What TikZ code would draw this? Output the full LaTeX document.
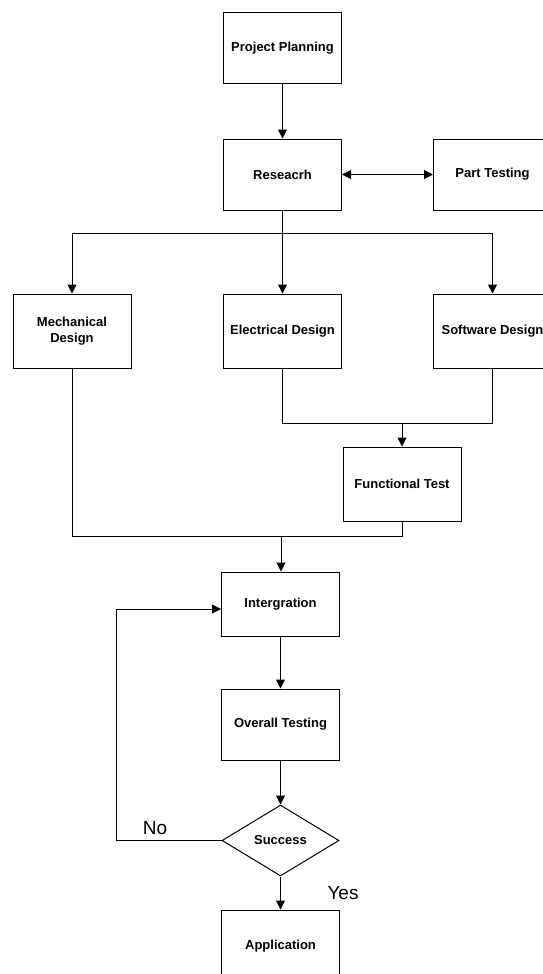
\documentclass[tikz,border=0pt]{standalone}
\usepackage{fontspec}
\setmainfont{Liberation Sans}
\usetikzlibrary{arrows.meta,shapes.geometric}

\begin{document}
\begin{tikzpicture}[x=1pt, y=-1pt,
        box/.style={draw, line width=1pt, minimum width=118pt, minimum height=71pt,
            align=center, font=\fontsize{13}{16}\selectfont\bfseries},
        decision/.style={draw, diamond, line width=1pt, minimum width=117pt, minimum height=71pt,
            aspect=1.65, inner sep=0pt, font=\fontsize{13}{16}\selectfont\bfseries},
        answer/.style={font=\fontsize{19}{22}\selectfont},
        link/.style={line width=1pt},
        arr/.style={link, -{Triangle[length=9pt, width=9pt]}},
        twoway/.style={link, {Triangle[length=9pt, width=9pt]}-{Triangle[length=9pt, width=9pt]}}]
        % \draw[help lines, step=50] (0,0) grid (542, 974);
        \useasboundingbox (0,0) rectangle (542,974);

        \node[box] (plan) at (282.5, 48) {Project Planning};
        \node[box] (research) at (282.5, 174.5) {Reseacrh};
        \node[box] (part) at (492.5, 174.5) {Part Testing};

        \node[box, minimum height=74pt] (mech) at (72, 331) {Mechanical\\Design};
        \node[box, minimum height=74pt] (elec) at (282.5, 331) {Electrical Design};
        \node[box, minimum height=74pt] (soft) at (492.5, 331) {Software Design};

        \node[box, minimum height=74pt] (func) at (402, 484) {Functional Test};
        \node[box, minimum height=64pt] (integ) at (280.5, 604) {Intergration};
        \node[box] (overall) at (280.5, 724.5) {Overall Testing};
        \node[decision] (success) at (280.5, 840.5) {Success};
        \node[box, minimum height=72pt] (app) at (280.5, 946) {Application};

        \node[answer] (nolbl) at (155, 828) {No};
        \node[answer] (yeslbl) at (343, 893) {Yes};

        \coordinate (split) at (282.5, 233);
        \coordinate (join1) at (402, 423.5);
        \coordinate (join2) at (281, 536.5);
        \coordinate (loop) at (116.5, 840.5);

        \draw[arr] (plan) -- (research);
        \draw[twoway] (research) -- (part);

        \draw[link] (research) -- (split);
        \draw[arr] (split) -| (mech);
        \draw[arr] (split) -- (elec);
        \draw[arr] (split) -| (soft);

        \draw[link] (elec.south) |- (join1) -| (soft.south);
        \draw[arr] (join1) -- (func);
        \draw[link] (mech.south) |- (join2) -| (func.south);
        \draw[arr] (join2) -- (join2 |- integ.north);

        \draw[arr] (integ) -- (overall);
        \draw[arr] (overall) -- (success);
        \draw[arr] (success) -- (app);
        \draw[link] (success) -- (loop);
        \draw[arr] (loop) |- ([yshift=-5pt]integ.west);

    \end{tikzpicture}
\end{document}
